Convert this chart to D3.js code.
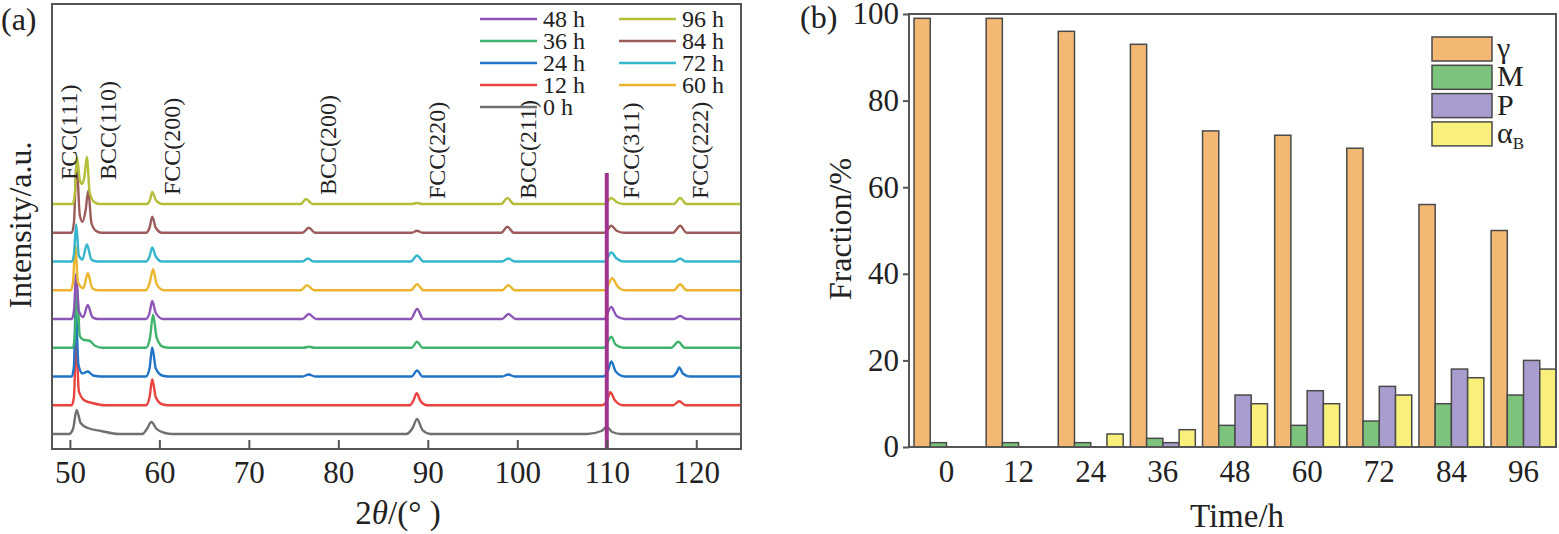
<!DOCTYPE html>
<html>
<head>
<meta charset="utf-8">
<script src="https://cdn.jsdelivr.net/npm/d3@7"></script>
<style>
  body { margin: 0; background: #fff; }
  svg { display: block; font-family: "Liberation Serif", "DejaVu Serif", serif; }
</style>
</head>
<body>
<svg id="chart" width="1559" height="534"></svg>
<script>
// ---- panel (a): XRD patterns, [2theta, intensity above own baseline] ----
var xrd0h = [[48,0],[49.9,0],[50.35,5],[50.75,24],[51.2,11],[52,6],[53.5,3],[55.5,0],
  [58.1,0],[58.6,5],[59.1,12],[59.7,5],[60.6,1],[61.5,0],
  [87.6,0],[88.3,6],[88.8,15],[89.4,4],[90.3,0],
  [107.8,0],[109.4,3],[110.0,7],[110.6,2],[111.6,0],[125,0]];
var xrd12h = [[48,0],[50.2,0],[50.45,8],[50.7,64],[51.0,14],[51.6,5],[52.6,2],[54,0],
  [58.5,0],[58.9,8],[59.2,26],[59.6,8],[60.3,1],[61,0],
  [88.0,0],[88.4,5],[88.75,12],[89.2,4],[89.9,0],
  [109.5,0],[110.0,4],[110.4,13],[110.9,5],[111.8,0],
  [117.4,0],[118.1,4],[118.8,0],[125,0]];
var xrd24h = [[48,0],[50.2,0],[50.45,10],[50.65,70],[50.95,12],[51.4,3],[52.0,5],[52.6,1],[53.5,0],
  [58.5,0],[58.9,8],[59.2,29],[59.6,8],[60.3,1],[61,0],
  [76.0,0],[76.7,2],[77.4,0],
  [88.2,0],[88.8,6],[89.4,0],
  [98.3,0],[99.0,2],[99.7,0],
  [109.6,0],[110.1,5],[110.5,15],[111.0,5],[112,0],
  [117.3,0],[117.8,4],[118.1,9],[118.5,3],[119.3,0],[125,0]];
var xrd36h = [[48,0],[50.3,0],[50.55,10],[50.8,60],[51.1,12],[51.5,8],[52.2,7],[52.8,2],[53.6,0],
  [58.5,0],[58.95,10],[59.3,33],[59.7,10],[60.4,1],[61.1,0],
  [76.1,0],[76.7,1],[77.3,0],
  [88.2,0],[88.8,6],[89.4,0],
  [109.7,0],[110.5,11],[111.0,3],[111.9,0],
  [117.2,0],[118.0,6],[118.7,0],[125,0]];
var xrd48h = [[48,0],[50.2,0],[50.45,8],[50.7,45],[51.0,8],[51.5,2],[52.0,14],[52.5,2],[53.1,0],
  [58.5,0],[58.9,6],[59.2,18],[59.6,6],[60.4,0],
  [76.0,0],[76.7,5],[77.5,0],
  [88.1,0],[88.8,10],[89.5,0],
  [98.3,0],[99.0,5],[99.8,0],
  [109.7,0],[110.5,12],[111.1,3],[112,0],
  [117.5,0],[118.2,3],[118.9,0],[125,0]];
var xrd60h = [[48,0],[50.1,0],[50.35,8],[50.6,45],[50.9,8],[51.5,2],[52.0,17],[52.5,2],[53.1,0],
  [58.5,0],[58.9,7],[59.3,21],[59.7,6],[60.5,0],
  [75.8,0],[76.5,5],[77.3,0],
  [88.1,0],[88.8,6],[89.5,0],
  [98.3,0],[99.0,5],[99.7,0],
  [109.8,0],[110.6,12],[111.2,4],[112,0],
  [117.5,0],[118.2,6],[118.9,0],[125,0]];
var xrd72h = [[48,0],[50.2,0],[50.45,7],[50.7,37],[51.0,6],[51.4,2],[51.9,17],[52.4,2],[53,0],
  [58.5,0],[58.9,5],[59.2,14],[59.6,5],[60.3,0],
  [76.0,0],[76.6,3],[77.2,0],
  [88.1,0],[88.8,6],[89.5,0],
  [98.3,0],[99.0,3],[99.7,0],
  [109.8,0],[110.5,9],[111.1,3],[111.9,0],
  [117.6,0],[118.2,3],[118.8,0],[125,0]];
var xrd84h = [[48,0],[50.2,0],[50.45,10],[50.75,70],[51.1,18],[51.4,11],[51.75,22],[52.05,42],[52.4,10],[52.9,2],[53.5,0],
  [58.5,0],[58.9,5],[59.2,16],[59.6,5],[60.3,0],
  [76.0,0],[76.7,5],[77.4,0],
  [88.2,0],[88.8,2],[89.4,0],
  [98.2,0],[98.9,6],[99.6,0],
  [109.8,0],[110.5,7],[111.1,2],[111.9,0],
  [117.4,0],[118.2,7],[118.9,0],[125,0]];
var xrd96h = [[48,0],[50.3,0],[50.55,10],[50.8,47],[51.1,24],[51.35,20],[51.6,26],[51.9,47],[52.2,12],[52.7,2],[53.3,0],
  [58.6,0],[58.95,4],[59.2,12],[59.6,4],[60.3,0],
  [75.8,0],[76.4,5],[77.1,0],
  [88.2,0],[88.8,1],[89.4,0],
  [98.2,0],[98.9,6],[99.6,0],
  [109.8,0],[110.5,6],[111.1,2],[111.9,0],
  [117.5,0],[118.2,6],[118.9,0],[125,0]];

var traceLabels = ["0 h","12 h","24 h","36 h","48 h","60 h","72 h","84 h","96 h"];
var traceColors = ["#707070","#e8433f","#1f74c6","#3fb36b","#8d55b6","#ebb52d","#35b6cc","#9c5c5c","#b4be38"];
var offsetStep = 28.75;          // vertical shift between patterns (a.u.)
var peakNames = ["FCC(111)","BCC(110)","FCC(200)","BCC(200)","FCC(220)","BCC(211)","FCC(311)","FCC(222)"];
var peakAngles = [50.7, 52.0, 59.2, 76.6, 88.8, 99.0, 110.5, 118.2];
var twoThetaTicks = [50, 60, 70, 80, 90, 100, 110, 120];
var markerAngle = 110, markerTop = 261;

// ---- panel (b): phase fractions ----
var hours = ["0","12","24","36","48","60","72","84","96"];
var phases = ["γ","M","P","αB"];
var gammaFrac = [99, 99, 96, 93, 73, 72, 69, 56, 50];
var mFrac     = [1, 1, 1, 2, 5, 5, 6, 10, 12];
var pFrac     = [0, 0, 0, 1, 12, 13, 14, 18, 20];
var alphaFrac = [0, 0, 3, 4, 10, 10, 12, 16, 18];
var phaseColors = ["#f3b873","#7cc47c","#a99dcf","#f8f07b"];
var fracTicks = [0, 20, 40, 60, 80, 100];

var svg = d3.select("#chart");
var frameColor = "#555";

// ================= panel (a) =================
var xA = d3.scaleLinear().domain([48, 125]).range([52, 741]);
var yA = d3.scaleLinear().domain([-15, 430]).range([449, 4]);
var gA = svg.append("g");

var traces = [xrd0h, xrd12h, xrd24h, xrd36h, xrd48h, xrd60h, xrd72h, xrd84h, xrd96h];

var line = d3.line().curve(d3.curveMonotoneX);

traces.forEach(function(pts, i) {
  var off = i * offsetStep;
  gA.append("path")
    .attr("d", line(pts.map(function(p){ return [xA(p[0]), yA(p[1] + off)]; })))
    .attr("fill", "none")
    .attr("stroke", traceColors[i])
    .attr("stroke-width", 2.4)
    .attr("stroke-linejoin", "round");
});

// reference line at 110 deg
gA.append("line")
  .attr("x1", xA(markerAngle)).attr("x2", xA(markerAngle))
  .attr("y1", yA(markerTop)).attr("y2", yA(-15))
  .attr("stroke", "#a0338f").attr("stroke-width", 4);

// peak labels (rotated)
peakNames.forEach(function(name, i) {
  var x = xA(peakAngles[i]) + (i === 0 ? 1 : 28);
  var y = (i < 2) ? 180 : (i < 4 ? 195 : 199);
  gA.append("text")
    .attr("transform", "translate(" + x + "," + y + ") rotate(-90)")
    .attr("font-size", 24)
    .attr("fill", "#222")
    .text(name);
});

// frame
gA.append("rect")
  .attr("x", xA.range()[0]).attr("y", yA.range()[1])
  .attr("width", xA.range()[1] - xA.range()[0])
  .attr("height", yA.range()[0] - yA.range()[1])
  .attr("fill", "none").attr("stroke", frameColor).attr("stroke-width", 2);

var axA = gA.append("g")
  .attr("transform", "translate(0," + yA.range()[0] + ")")
  .call(d3.axisBottom(xA).tickValues(twoThetaTicks).tickSize(-9).tickPadding(12));
axA.select(".domain").remove();
axA.selectAll(".tick line").attr("stroke", frameColor).attr("stroke-width", 2);
axA.selectAll(".tick text").attr("font-size", 31).attr("fill", "#222")
  .attr("font-family", "Liberation Serif, serif");

// legend (a)
var legA = gA.append("g");
var legOrder = [[4,3,2,1,0],[8,7,6,5]];
legOrder.forEach(function(col, c) {
  var lx = c === 0 ? 480 : 619;
  col.forEach(function(idx, r) {
    var ly = 19 + r * 22;
    legA.append("line")
      .attr("x1", lx).attr("x2", lx + 57).attr("y1", ly).attr("y2", ly)
      .attr("stroke", traceColors[idx]).attr("stroke-width", 2.4);
    legA.append("text")
      .attr("x", lx + 63).attr("y", ly + 8)
      .attr("font-size", 24).attr("fill", "#222")
      .text(traceLabels[idx]);
  });
});

// axis titles (a)
gA.append("text")
  .attr("transform", "translate(31,225) rotate(-90)")
  .attr("text-anchor", "middle").attr("font-size", 32).attr("fill", "#222")
  .text("Intensity/a.u.");
var xt = gA.append("text")
  .attr("x", 398).attr("y", 524)
  .attr("text-anchor", "middle").attr("font-size", 33).attr("fill", "#222");
xt.append("tspan").text("2");
xt.append("tspan").attr("font-style", "italic").text("θ");
xt.append("tspan").text("/(° )");

gA.append("text").attr("x", 1).attr("y", 30).attr("font-size", 32).attr("fill", "#222").text("(a)");

// ================= panel (b) =================
var xB = d3.scaleBand().domain(hours).range([914, 1556]).paddingInner(0.1).paddingOuter(0);
var xSub = d3.scaleBand().domain(phases).range([0, xB.bandwidth()]);
var yB = d3.scaleLinear().domain([0, 100]).range([447, 14]);
var gB = svg.append("g");

var fracs = [gammaFrac, mFrac, pFrac, alphaFrac];
var rows = [];
hours.forEach(function(h, i) {
  phases.forEach(function(p, j) {
    rows.push({ hour: h, phase: p, v: fracs[j][i], color: phaseColors[j] });
  });
});

gB.selectAll("rect.bar")
  .data(rows.filter(function(d){ return d.v > 0; }))
  .enter().append("rect")
  .attr("class", "bar")
  .attr("x", function(d){ return xB(d.hour) + xSub(d.phase); })
  .attr("y", function(d){ return yB(d.v); })
  .attr("width", xSub.bandwidth())
  .attr("height", function(d){ return yB(0) - yB(d.v); })
  .attr("fill", function(d){ return d.color; })
  .attr("stroke", "#4a4a4a")
  .attr("stroke-width", 1.5);

gB.append("rect")
  .attr("x", 909).attr("y", yB(100))
  .attr("width", 1556 - 909).attr("height", yB(0) - yB(100))
  .attr("fill", "none").attr("stroke", frameColor).attr("stroke-width", 2);

var ayB = gB.append("g")
  .attr("transform", "translate(909,0)")
  .call(d3.axisLeft(yB).tickValues(fracTicks).tickSize(6).tickPadding(4));
ayB.select(".domain").remove();
ayB.selectAll(".tick line").attr("stroke", frameColor).attr("stroke-width", 2);
ayB.selectAll(".tick text").attr("font-size", 31).attr("fill", "#222")
  .attr("font-family", "Liberation Serif, serif");

var axB = gB.append("g")
  .attr("transform", "translate(0," + yB(0) + ")")
  .call(d3.axisBottom(xB).tickSize(0).tickPadding(13));
axB.select(".domain").remove();
axB.selectAll(".tick text").attr("font-size", 31).attr("fill", "#222")
  .attr("font-family", "Liberation Serif, serif");

// legend (b)
var legB = gB.append("g");
phases.forEach(function(p, j) {
  var ly = 37 + j * 28.3;
  legB.append("rect")
    .attr("x", 1432).attr("y", ly).attr("width", 60).attr("height", 24)
    .attr("fill", phaseColors[j]).attr("stroke", "#4a4a4a").attr("stroke-width", 1.5);
  var t = legB.append("text")
    .attr("x", 1497).attr("y", ly + 21)
    .attr("font-size", 30).attr("fill", "#222");
  if (p === "αB") {
    t.append("tspan").text("α");
    t.append("tspan").attr("font-size", 17).attr("dy", 6).text("B");
  } else {
    t.text(p);
  }
});

gB.append("text")
  .attr("transform", "translate(851,229) rotate(-90)")
  .attr("text-anchor", "middle").attr("font-size", 32).attr("fill", "#222")
  .text("Fraction/%");
gB.append("text")
  .attr("x", 1237).attr("y", 527)
  .attr("text-anchor", "middle").attr("font-size", 33).attr("fill", "#222")
  .text("Time/h");
gB.append("text").attr("x", 800).attr("y", 28).attr("font-size", 32).attr("fill", "#222").text("(b)");
</script>
</body>
</html>
